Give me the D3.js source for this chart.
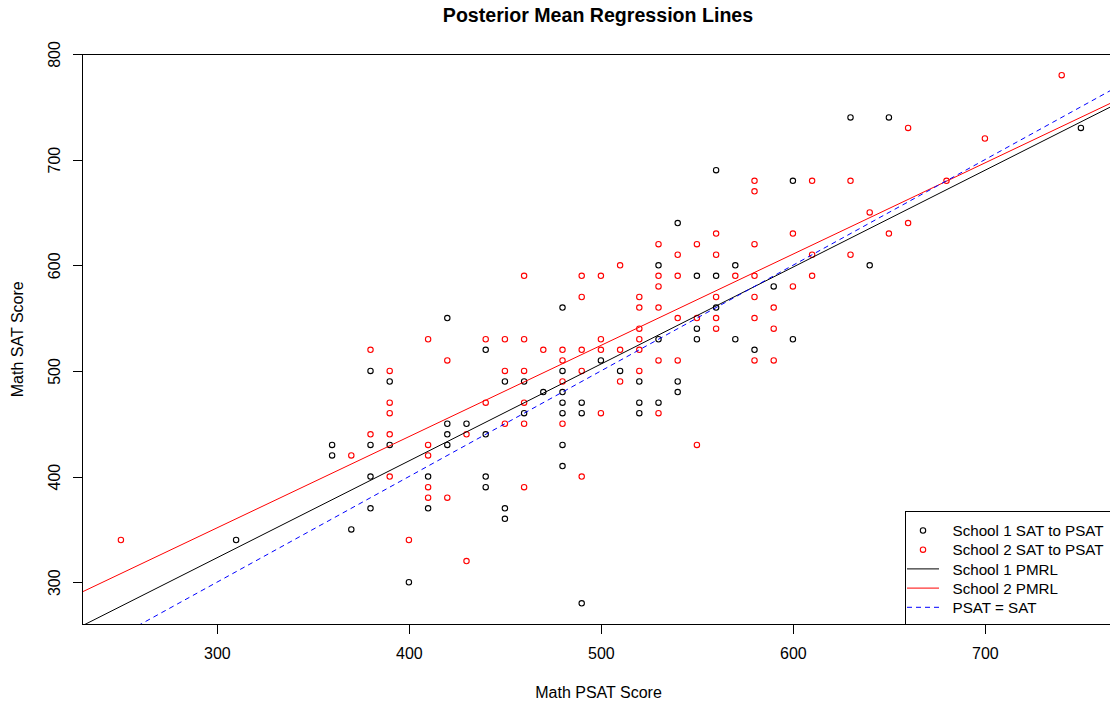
<!DOCTYPE html>
<html><head><meta charset="utf-8">
<script src="https://cdn.jsdelivr.net/npm/d3@7"></script>
<style>
body{margin:0;background:#fff}
svg{display:block}
text{font-family:"Liberation Sans",Arial,sans-serif;fill:#000}
</style>
</head><body><div id="chart"></div>
<script>
// ---- data ----
const school1Psat = [310,360,360,370,380,380,380,380,390,390,400,410,410,420,420,420,420,430,440,440,440,440,450,450,450,460,460,470,480,480,480,480,480,480,480,490,490,490,500,510,520,520,520,530,530,530,540,540,540,550,550,550,560,560,560,570,570,580,590,600,600,630,640,650,750];
const school1Sat  = [340,430,420,350,500,430,400,370,490,430,300,400,370,550,450,440,430,450,520,440,400,390,490,370,360,490,460,480,560,500,480,470,460,430,410,470,460,280,510,500,490,470,460,600,530,470,640,490,480,590,540,530,690,590,560,600,530,520,580,680,530,740,600,740,730];
const school2Psat = [250,370,380,380,390,390,390,390,390,400,410,410,410,410,410,420,420,430,430,440,440,450,450,450,460,460,460,460,460,460,470,480,480,480,480,490,490,490,490,490,500,500,500,500,510,510,510,520,520,520,520,520,520,530,530,530,530,530,530,540,540,540,540,550,550,550,560,560,560,560,560,570,580,580,580,580,580,580,580,590,590,590,600,600,610,610,610,630,630,640,650,660,660,680,700,740];
const school2Sat  = [340,420,520,440,500,470,460,440,400,340,530,430,420,390,380,510,380,440,320,530,470,530,500,450,590,530,500,470,450,390,520,520,510,490,450,590,570,520,500,400,590,530,520,460,600,520,490,570,560,540,530,520,500,620,590,580,560,510,460,610,590,550,510,620,550,430,630,610,570,550,540,590,680,670,620,590,570,550,510,560,540,510,630,580,680,610,590,680,610,650,630,730,640,680,720,780];
const xTicks = [300,400,500,600,700];
const yTicks = [300,400,500,600,700,800];
const xDomain = [230,770];
const yDomain = [260,800];
const lineIntercepts = [48, 92.3, 0];
const lineSlopes = [0.917, 0.8637, 1];
const lineColors = ["#000000","#ff0000","#0000ff"];
const lineDashes = [null, null, "5,4"];
const legendLabels = ["School 1 SAT to PSAT","School 2 SAT to PSAT","School 1 PMRL","School 2 PMRL","PSAT = SAT"];
const legendTypes = ["point","point","line","line","line"];
const legendColors = ["#000000","#ff0000","#000000","#ff0000","#0000ff"];
const legendDashes = [null,null,null,null,"5,4"];

// ---- chart ----
(function(){
const W = 1110, H = 704;
const svg = d3.select("#chart").append("svg").attr("width", W).attr("height", H);
svg.append("rect").attr("width", W).attr("height", H).attr("fill", "#fff");

const x = d3.scaleLinear().domain(xDomain).range([82.5, 82.5 + 540 * 1.92]);
const y = d3.scaleLinear().domain(yDomain).range([624.5, 54]);
const pL = x(xDomain[0]), pR = x(xDomain[1]), pT = y(yDomain[1]), pB = y(yDomain[0]);

svg.append("clipPath").attr("id", "plotclip").append("rect")
  .attr("x", pL).attr("y", pT).attr("width", pR - pL).attr("height", pB - pT);

// points
const pts1 = school1Psat.map((v, i) => [v, school1Sat[i]]);
const pts2 = school2Psat.map((v, i) => [v, school2Sat[i]]);
const gp = svg.append("g").attr("clip-path", "url(#plotclip)");
[[pts1, "#000000"], [pts2, "#ff0000"]].forEach(([pts, col]) => {
  gp.selectAll(null).data(pts).enter().append("circle")
    .attr("cx", d => x(d[0])).attr("cy", d => y(d[1])).attr("r", 2.7)
    .attr("fill", "none").attr("stroke", col).attr("stroke-width", 1.1);
});

// regression lines
const gl = svg.append("g").attr("clip-path", "url(#plotclip)");
lineIntercepts.forEach((b, i) => {
  const m = lineSlopes[i];
  const ln = gl.append("line")
    .attr("x1", x(xDomain[0])).attr("y1", y(b + m * xDomain[0]))
    .attr("x2", x(xDomain[1])).attr("y2", y(b + m * xDomain[1]))
    .attr("stroke", lineColors[i]).attr("stroke-width", 1);
  if (lineDashes[i]) ln.attr("stroke-dasharray", lineDashes[i]);
});

// box
svg.append("rect").attr("x", pL).attr("y", pT).attr("width", pR - pL).attr("height", pB - pT)
  .attr("fill", "none").attr("stroke", "#000").attr("stroke-width", 1).attr("shape-rendering", "crispEdges");

// axes
const xa = svg.append("g").attr("transform", `translate(0,${pB})`)
  .call(d3.axisBottom(x).tickValues(xTicks).tickSize(9.6).tickPadding(14).tickFormat(d3.format("d")));
xa.select(".domain").remove();
xa.selectAll("line").attr("stroke", "#000").attr("shape-rendering", "crispEdges");
xa.selectAll("text").attr("font-size", 16).attr("font-family", "Liberation Sans, Arial, sans-serif").attr("fill", "#000");

const ya = svg.append("g").attr("transform", `translate(${pL},0)`)
  .call(d3.axisLeft(y).tickValues(yTicks).tickSize(9.6).tickFormat(d3.format("d")));
ya.select(".domain").remove();
ya.selectAll("line").attr("stroke", "#000").attr("shape-rendering", "crispEdges");
ya.selectAll("text").attr("font-size", 16).attr("font-family", "Liberation Sans, Arial, sans-serif").attr("fill", "#000")
  .attr("x", null).attr("dy", null).attr("text-anchor", "middle")
  .attr("transform", "translate(-23,0) rotate(-90)");

// title and labels
svg.append("text").attr("x", 598).attr("y", 22).attr("text-anchor", "middle")
  .attr("font-size", 19.6).attr("font-weight", "bold").text("Posterior Mean Regression Lines");
svg.append("text").attr("x", 598.5).attr("y", 697.5).attr("text-anchor", "middle")
  .attr("font-size", 16).text("Math PSAT Score");
svg.append("text").attr("transform", `translate(22.5,${(pT + pB) / 2}) rotate(-90)`).attr("text-anchor", "middle")
  .attr("font-size", 16).text("Math SAT Score");

// legend
const lg = svg.append("g");
lg.append("rect").attr("x", 905.5).attr("y", 511.5).attr("width", pR - 905.5).attr("height", pB - 511.5)
  .attr("fill", "#fff").attr("stroke", "#000").attr("stroke-width", 1).attr("shape-rendering", "crispEdges");
legendLabels.forEach((lab, i) => {
  const cy = 530.5 + i * 19.2;
  if (legendTypes[i] === "point") {
    lg.append("circle").attr("cx", 923).attr("cy", cy).attr("r", 2.7)
      .attr("fill", "none").attr("stroke", legendColors[i]).attr("stroke-width", 1.1);
  } else {
    const l = lg.append("line").attr("x1", 907).attr("x2", 939).attr("y1", cy).attr("y2", cy)
      .attr("stroke", legendColors[i]).attr("stroke-width", 1);
    if (legendDashes[i]) l.attr("stroke-dasharray", legendDashes[i]);
  }
  lg.append("text").attr("x", 952.5).attr("y", cy + 5.6).attr("font-size", 15.2).text(lab);
});
})();
</script>
</body></html>
